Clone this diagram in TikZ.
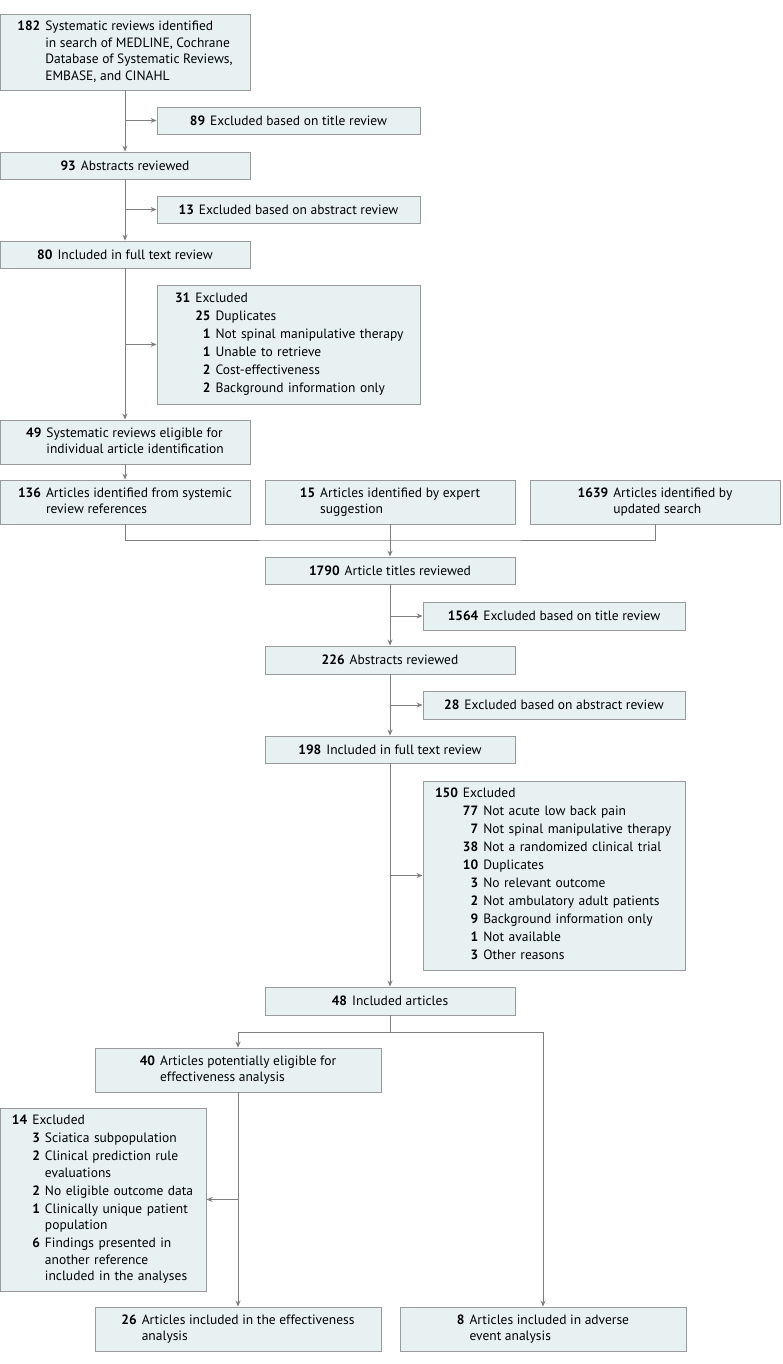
\documentclass[tikz,border=0pt]{standalone}
\usepackage{fontspec}
\setmainfont{PT Sans}
\usepackage{tikz}
\usetikzlibrary{arrows.meta,positioning}

\definecolor{boxfill}{HTML}{E8F1F2}
\definecolor{boxline}{HTML}{9A9A9A}
\definecolor{flowline}{HTML}{7F7F7F}

\begin{document}
\begin{tikzpicture}[x=1pt,y=-1pt,
  font=\fontsize{13.5}{16.5}\selectfont,
  box/.style={draw=boxline, fill=boxfill, line width=0.9pt, inner sep=0pt},
  lbox/.style={box, inner xsep=#1, align=left},
  arr/.style={draw=flowline, line width=0.9pt, -{Stealth[length=6pt,width=5pt]}},
  ln/.style={draw=flowline, line width=0.9pt}]
\useasboundingbox (0,0) rectangle (783,1364);

% Systematic reviews stage
\node[box, minimum width=250, minimum height=76] (srch) at (125,52)
  {\begin{tabular}{@{}r@{\hspace{5pt}}l@{}}
   \textbf{182} & Systematic reviews identified\\
   & in search of MEDLINE, Cochrane\\
   & Database of Systematic Reviews,\\
   & EMBASE, and CINAHL
   \end{tabular}};
\node[box, minimum width=263, minimum height=27] (exttl) at (288.5,120.5)
  {\textbf{89}\hspace{5pt}Excluded based on title review};
\node[box, minimum width=250, minimum height=27] (abst) at (125,165.5)
  {\textbf{93}\hspace{5pt}Abstracts reviewed};
\node[box, minimum width=263, minimum height=27] (exabs) at (288.5,209.5)
  {\textbf{13}\hspace{5pt}Excluded based on abstract review};
\node[box, minimum width=250, minimum height=27] (full) at (125,254.5)
  {\textbf{80}\hspace{5pt}Included in full text review};
\node[lbox=18pt, text width=227, minimum height=119] (exfull) at (288.5,344.5)
  {\begin{tabular}{@{}r@{\hspace{5pt}}r@{\hspace{5pt}}l@{}}
   \textbf{31} & \multicolumn{2}{@{}l@{}}{Excluded}\\[1.5pt]
   & \textbf{25} & Duplicates\\[1.5pt]
   & \textbf{1} & Not spinal manipulative therapy\\[1.5pt]
   & \textbf{1} & Unable to retrieve\\[1.5pt]
   & \textbf{2} & Cost-effectiveness\\[1.5pt]
   & \textbf{2} & Background information only
   \end{tabular}};
\node[box, minimum width=250, minimum height=44] (elig) at (125,442)
  {\begin{tabular}{@{}r@{\hspace{5pt}}l@{}}
   \textbf{49} & Systematic reviews eligible for\\
   & individual article identification
   \end{tabular}};

% Article sources
\node[box, minimum width=250, minimum height=44] (refs) at (125,502)
  {\begin{tabular}{@{}r@{\hspace{5pt}}l@{}}
   \textbf{136} & Articles identified from systemic\\
   & review references
   \end{tabular}};
\node[box, minimum width=250, minimum height=44] (expert) at (390,502)
  {\begin{tabular}{@{}r@{\hspace{5pt}}l@{}}
   \textbf{15} & Articles identified by expert\\
   & suggestion
   \end{tabular}};
\node[box, minimum width=250, minimum height=44] (update) at (655,502)
  {\begin{tabular}{@{}r@{\hspace{5pt}}l@{}}
   \textbf{1639} & Articles identified by\\
   & updated search
   \end{tabular}};
\coordinate (merge) at (390,540);

% Article screening stage
\node[box, minimum width=250, minimum height=27] (titles) at (390,570.5)
  {\textbf{1790}\hspace{5pt}Article titles reviewed};
\node[box, minimum width=262, minimum height=28] (exttl2) at (554,616)
  {\textbf{1564}\hspace{5pt}Excluded based on title review};
\node[box, minimum width=250, minimum height=28] (abst2) at (390,660)
  {\textbf{226}\hspace{5pt}Abstracts reviewed};
\node[box, minimum width=262, minimum height=28] (exabs2) at (554,705)
  {\textbf{28}\hspace{5pt}Excluded based on abstract review};
\node[box, minimum width=250, minimum height=27] (full2) at (390,749.5)
  {\textbf{198}\hspace{5pt}Included in full text review};
\node[lbox=12pt, text width=238, minimum height=189] (exfull2) at (554,875.5)
  {\begin{tabular}{@{}r@{\hspace{5pt}}r@{\hspace{5pt}}l@{}}
   \textbf{150} & \multicolumn{2}{@{}l@{}}{Excluded}\\[1.5pt]
   & \textbf{77} & Not acute low back pain\\[1.5pt]
   & \textbf{7} & Not spinal manipulative therapy\\[1.5pt]
   & \textbf{38} & Not a randomized clinical trial\\[1.5pt]
   & \textbf{10} & Duplicates\\[1.5pt]
   & \textbf{3} & No relevant outcome\\[1.5pt]
   & \textbf{2} & Not ambulatory adult patients\\[1.5pt]
   & \textbf{9} & Background information only\\[1.5pt]
   & \textbf{1} & Not available\\[1.5pt]
   & \textbf{3} & Other reasons
   \end{tabular}};
\node[box, minimum width=250, minimum height=28] (incl) at (390,1001)
  {\textbf{48}\hspace{5pt}Included articles};
\coordinate (split) at (390,1032);

% Analyses
\node[box, minimum width=286, minimum height=44] (poteff) at (238,1070)
  {\begin{tabular}{@{}r@{\hspace{5pt}}l@{}}
   \textbf{40} & Articles potentially eligible for\\
   & effectiveness analysis
   \end{tabular}};
\node[lbox=12pt, text width=182, minimum height=183] (exeff) at (103,1199.5)
  {\begin{tabular}{@{}r@{\hspace{5pt}}r@{\hspace{5pt}}l@{}}
   \textbf{14} & \multicolumn{2}{@{}l@{}}{Excluded}\\[1.5pt]
   & \textbf{3} & Sciatica subpopulation\\[1.5pt]
   & \textbf{2} & Clinical prediction rule\\
   & & evaluations\\[1.5pt]
   & \textbf{2} & No eligible outcome data\\[1.5pt]
   & \textbf{1} & Clinically unique patient\\
   & & population\\[1.5pt]
   & \textbf{6} & Findings presented in\\
   & & another reference\\
   & & included in the analyses
   \end{tabular}};
\node[box, minimum width=286, minimum height=44] (eff) at (238,1329)
  {\begin{tabular}{@{}r@{\hspace{5pt}}l@{}}
   \textbf{26} & Articles included in the effectiveness\\
   & analysis
   \end{tabular}};
\node[box, minimum width=286, minimum height=44] (adv) at (543,1329)
  {\begin{tabular}{@{}r@{\hspace{5pt}}l@{}}
   \textbf{8} & Articles included in adverse\\
   & event analysis
   \end{tabular}};

% Connectors
\draw[arr] (srch) -- (abst);
\draw[arr] (srch.south |- exttl.west) -- (exttl.west);
\draw[arr] (abst) -- (full);
\draw[arr] (abst.south |- exabs.west) -- (exabs.west);
\draw[arr] (full) -- (elig);
\draw[arr] (full.south |- exfull.west) -- (exfull.west);
\draw[arr] (elig) -- (refs);
\draw[ln] (refs.south) |- (merge) -| (update.south);
\draw[ln] (expert.south) -- (merge);
\draw[arr] (merge) -- (titles.north);
\draw[arr] (titles) -- (abst2);
\draw[arr] (titles.south |- exttl2.west) -- (exttl2.west);
\draw[arr] (abst2) -- (full2);
\draw[arr] (abst2.south |- exabs2.west) -- (exabs2.west);
\draw[arr] (full2) -- (incl);
\draw[arr] (full2.south |- exfull2.west) -- (exfull2.west);
\draw[ln] (incl.south) -- (split);
\draw[arr] (split) -| (poteff.north);
\draw[arr] (split) -| (adv.north);
\draw[arr] (poteff) -- (eff);
\draw[arr] (poteff.south |- exeff.east) -- (exeff.east);
\end{tikzpicture}
\end{document}
